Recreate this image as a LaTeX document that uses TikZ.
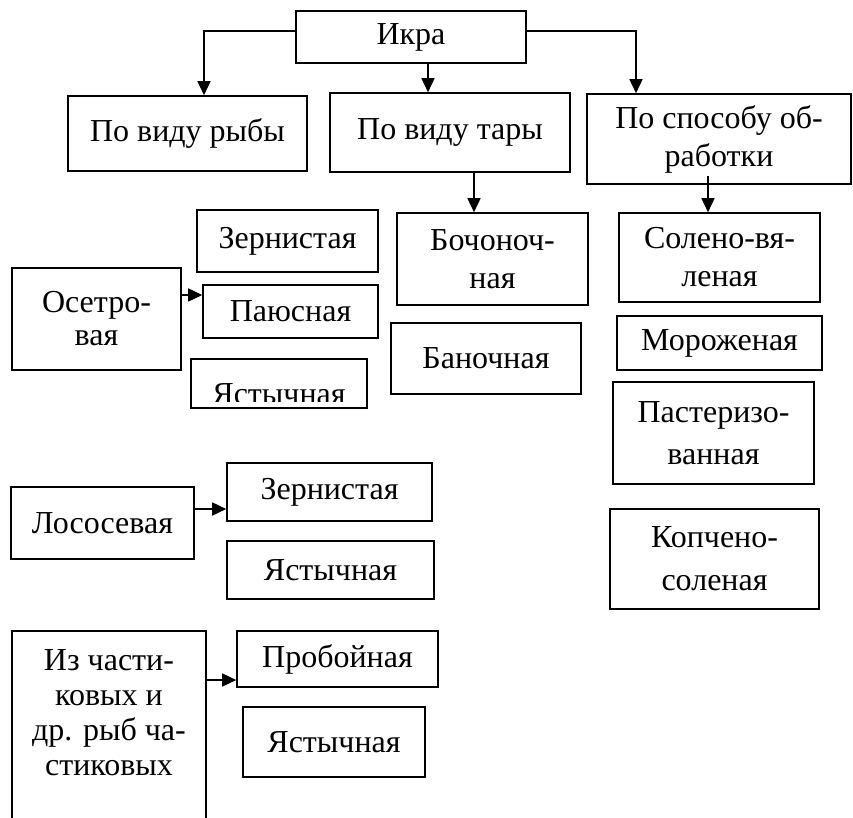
\documentclass[tikz,border=0pt]{standalone}
\usepackage{fontspec}
\setmainfont{Liberation Serif}
\usetikzlibrary{arrows.meta,positioning}

\begin{document}
\begin{tikzpicture}[x=1pt, y=-1pt,
box/.style = {draw, line width=1.6pt, align=center, inner sep=0pt,
  minimum width=#1, font=\fontsize{32}{38}\selectfont},
arr/.style = {line width=1.6pt, -{Triangle[length=14pt,width=13pt]}}]
\clip (0,0) rectangle (853,818);
\node[box=230, minimum height=52] (ikra) at (411,37) {Икра};
\node[box=239, minimum height=75] (ryba) at (187.5,133.5) {По виду рыбы};
\node[box=240, minimum height=79] (tara) at (450,132.5) {По виду тары};
\node[box=264, minimum height=90] (obrab) at (719,139) {По способу об-\\работки};
\node[box=191, minimum height=92] (bochon) at (492.5,259) {Бочоноч-\\ная};
\node[box=190, minimum height=71] (banoch) at (486,358.5) {Баночная};
\node[box=201, minimum height=89] (soleno) at (719.5,257.5) {Солено-вя-\\леная};
\node[box=205, minimum height=54] (moroz) at (719.5,343) {Мороженая};
\node[box=201, minimum height=102,
  font=\fontsize{32}{42}\selectfont] (paster) at (713.5,433) {Пастеризо-\\ванная};
\node[box=209, minimum height=100,
  font=\fontsize{32}{43}\selectfont] (kopch) at (714.5,559) {Копчено-\\соленая};
\node[box=181, minimum height=62] (zern1) at (287.5,241) {Зернистая};
\node[box=169, minimum height=102,
  font=\fontsize{32}{33}\selectfont] (osetr) at (96.5,319) {Осетро-\\вая};
\node[box=175, minimum height=53] (payus) at (290.5,311.5) {Паюсная};
\node[box=176, minimum height=49] (jast1) at (279,383.5) {};
\begin{scope}
\clip (190,360) rectangle (368,401);
\node[font=\fontsize{32}{38}\selectfont, anchor=base] at (279,404) {Ястычная};
\end{scope}
\node[box=183, minimum height=72] (losos) at (102.5,523) {Лососевая};
\node[box=205, minimum height=58] (zern2) at (329.5,492) {Зернистая};
\node[box=207, minimum height=58] (jast2) at (330.5,570) {Ястычная};
\node[box=194, minimum height=191] (chast) at (109,726.5) {};
\node[font=\fontsize{32}{35}\selectfont, align=center, anchor=north,
  below=16pt of chast.north] {Из части-\\ковых и\\др. рыб ча-\\стиковых};
\node[box=201, minimum height=56] (proboi) at (337.5,659) {Пробойная};
\node[box=182, minimum height=70] (jast3) at (334,742) {Ястычная};

\draw[arr] ([yshift=6pt]ikra.west) -| ([xshift=16.5pt]ryba.north);
\draw[arr] ([xshift=17pt]ikra.south) -- ([xshift=17pt]ikra.south |- tara.north);
\draw[arr] ([yshift=6pt]ikra.east) -| ([xshift=-83pt]obrab.north);
\draw[arr] ([xshift=24pt]tara.south) -- ([xshift=24pt]tara.south |- bochon.north);
\draw[arr] ([xshift=-11pt,yshift=9pt]obrab.south) -- ([xshift=-11pt]obrab.south |- soleno.north);
\draw[arr] (osetr.east |- 0,295) -- (payus.west |- 0,295);
\draw[arr] (losos.east |- 0,509) -- (zern2.west |- 0,509);
\draw[arr] (chast.east |- 0,680) -- (proboi.west |- 0,680);
\end{tikzpicture}
\end{document}
